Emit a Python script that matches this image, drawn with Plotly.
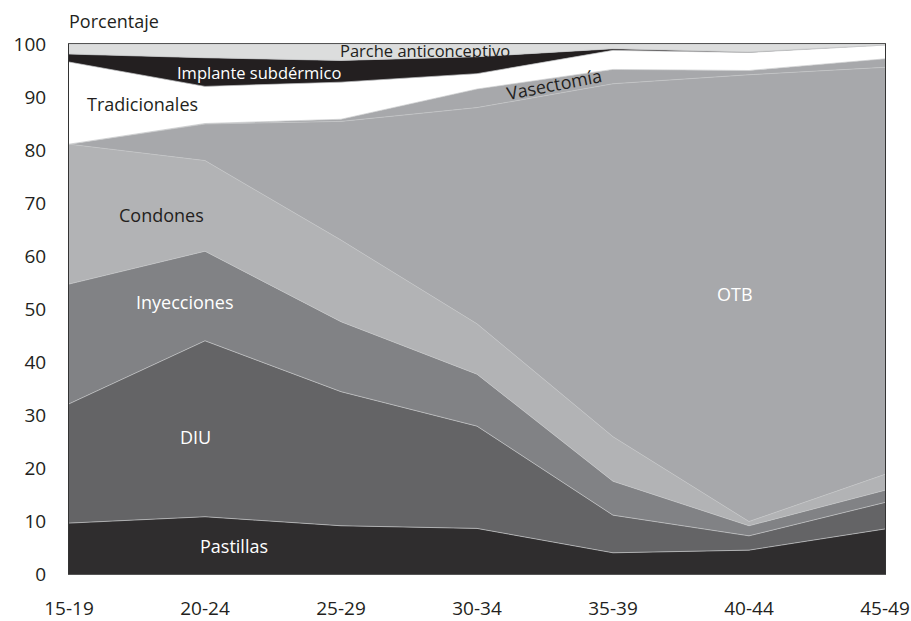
import plotly.graph_objects as go

grupos = ["15-19", "20-24", "25-29", "30-34", "35-39", "40-44", "45-49"]

pastillas     = [9.6, 10.8, 9.1, 8.6, 4.0, 4.5, 8.5]
diu           = [22.5, 33.2, 25.3, 19.3, 7.1, 2.7, 5.0]
inyecciones   = [22.6, 16.9, 13.2, 9.8, 6.4, 1.9, 2.3]
condones      = [26.4, 17.1, 15.4, 9.5, 8.4, 0.8, 3.0]
otb           = [0.0, 6.9, 22.4, 40.8, 66.6, 84.3, 76.8]
vasectomia    = [0.0, 0.1, 0.4, 3.5, 2.7, 0.8, 1.6]
tradicionales = [15.5, 7.0, 7.0, 2.9, 3.6, 3.4, 2.6]
implante      = [1.5, 5.4, 4.1, 3.2, 0.3, 0.1, 0.0]
parche        = [1.9, 2.6, 3.1, 2.4, 0.9, 1.5, 0.2]

series = [
    ("Pastillas", pastillas, "#2f2d2e"),
    ("DIU", diu, "#646466"),
    ("Inyecciones", inyecciones, "#818285"),
    ("Condones", condones, "#b2b3b5"),
    ("OTB", otb, "#a7a8ab"),
    ("Vasectomía", vasectomia, "#a7a8ab"),
    ("Tradicionales", tradicionales, "#ffffff"),
    ("Implante subdérmico", implante, "#231f20"),
    ("Parche anticonceptivo", parche, "#dcdddd"),
]

FONT = "Open Sans"

fig = go.Figure()
for name, vals, col in series:
    fig.add_trace(go.Scatter(
        x=grupos, y=vals, name=name, mode="lines", stackgroup="one",
        fillcolor=col, line=dict(color="#c4c5c7", width=0.7),
        hoverinfo="x+y+name",
    ))

labels = [
    ("Parche anticonceptivo", 2.62, 98.7, "#231f20", 16.5, 0),
    ("Implante subdérmico", 1.40, 94.7, "#ffffff", 16.5, 0),
    ("Tradicionales", 0.54, 88.7, "#231f20", 18, 0),
    ("Vasectomía", 3.57, 92.4, "#231f20", 18, -11),
    ("Condones", 0.68, 67.7, "#231f20", 18, 0),
    ("Inyecciones", 0.85, 51.3, "#ffffff", 18, 0),
    ("DIU", 0.93, 25.8, "#ffffff", 18, 0),
    ("Pastillas", 1.21, 5.3, "#ffffff", 18, 0),
    ("OTB", 4.90, 52.8, "#ffffff", 18, 0),
]
for txt, x, y, col, size, ang in labels:
    fig.add_annotation(x=x, y=y, xref="x", yref="y", text=txt, showarrow=False,
                       textangle=ang, font=dict(family=FONT, size=size, color=col))

fig.add_annotation(x=-0.003, y=1, xref="paper", yref="paper", text="Porcentaje",
                   showarrow=False, xanchor="left", yanchor="bottom", yshift=9,
                   font=dict(family=FONT, size=18, color="#231f20"))

fig.update_layout(
    width=911, height=621,
    margin=dict(l=69, r=26, t=44, b=47, autoexpand=False),
    paper_bgcolor="white", plot_bgcolor="white",
    showlegend=False,
    font=dict(family=FONT, color="#231f20"),
    xaxis=dict(type="category", range=[0, 6], showgrid=False, zeroline=False,
               showline=True, linecolor="#555555", linewidth=1, mirror=True,
               automargin=False,
               ticks="", tickfont=dict(size=19, family=FONT, color="#231f20"),
               ticklabelstandoff=17),
    yaxis=dict(range=[0, 100], dtick=10, showgrid=False, zeroline=False,
               showline=True, linecolor="#333333", linewidth=1, mirror=True,
               automargin=False,
               ticks="", tickfont=dict(size=19, family=FONT, color="#231f20"),
               ticklabelstandoff=18),
)

fig.write_html(
    "out.html",
    config={"displayModeBar": False},
    post_script="document.body.style.margin='0';document.body.style.overflow='hidden';",
)
